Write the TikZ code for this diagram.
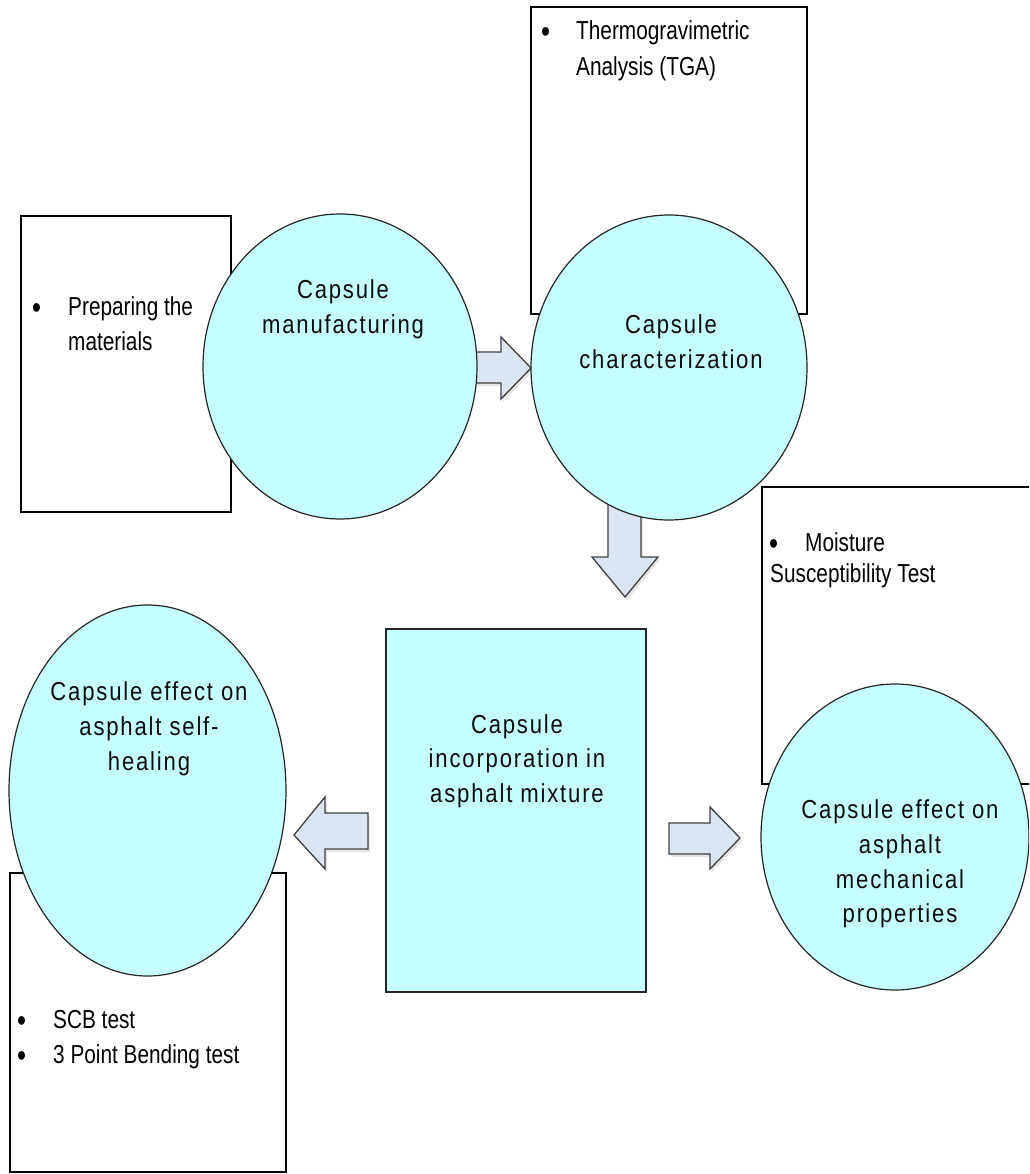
\documentclass[tikz,border=0pt]{standalone}
\usepackage{fontspec}
\setmainfont{Liberation Sans}
\newfontfamily\boxfont{Liberation Sans}[FakeStretch=0.8]
\newfontfamily\circfont{Liberation Sans}[FakeStretch=0.85,LetterSpace=7]
\usetikzlibrary{shapes.geometric}
\definecolor{capcyan}{RGB}{198,255,255}
\definecolor{arrfill}{RGB}{220,230,242}
\definecolor{arrline}{RGB}{64,64,64}
\tikzset{
  infobox/.style={rectangle, draw=black, line width=1.2pt, fill=white, inner sep=0, outer sep=0, anchor=north west},
  capsule/.style={ellipse, draw=black!85, line width=1.2pt, fill=capcyan, inner sep=0, outer sep=0},
  caprect/.style={rectangle, draw=black!85, line width=1.2pt, fill=capcyan, inner sep=0, outer sep=0, anchor=north west},
  blockarrow/.style={draw=arrline, line width=1.3pt, fill=arrfill, line join=miter},
  arrshadow/.style={fill=black!10, draw=none},
  boxtxt/.style={font=\boxfont\fontsize{26}{30}\selectfont, text=black, inner sep=0, anchor=base west},
  bultxt/.style={font=\boxfont\fontsize{32}{32}\selectfont, text=black, inner sep=0, anchor=base west},
  circtxt/.style={font=\circfont\fontsize{26}{35}\selectfont, text=black!95, inner sep=0, anchor=base},
}
\begin{document}
\begin{tikzpicture}[x=1pt,y=-1pt]
\useasboundingbox (0,0) rectangle (1029,1174);
\clip (0,0) rectangle (1029,1174);
\fill[white] (0,0) rectangle (1029,1174);

% info boxes (behind)
\node[infobox, minimum width=210pt, minimum height=296pt] (boxprep) at (21,216) {};
\node[infobox, minimum width=276pt, minimum height=307pt] (boxtga) at (531,7) {};
\node[infobox, minimum width=275pt, minimum height=297pt] (boxmoist) at (762,487) {};
\node[infobox, minimum width=276pt, minimum height=299pt] (boxscb) at (10,873) {};

% block arrows with faint shadows
\begin{scope}[shift={(2,3)}]
  \path[arrshadow] (470,352) -- (501,352) -- (501,337) -- (531,368) -- (501,399) -- (501,383) -- (470,383) -- cycle;
  \path[arrshadow] (608,500) -- (641,500) -- (641,557) -- (658,557) -- (625,597) -- (592,557) -- (608,557) -- cycle;
  \path[arrshadow] (669,823) -- (710,823) -- (710,807) -- (740,838) -- (710,869) -- (710,854) -- (669,854) -- cycle;
  \path[arrshadow] (368,813) -- (325,813) -- (325,797) -- (294,835) -- (325,869) -- (325,849) -- (368,849) -- cycle;
\end{scope}
\draw[blockarrow] (470,352) -- (501,352) -- (501,337) -- (531,368) -- (501,399) -- (501,383) -- (470,383) -- cycle;
\draw[blockarrow] (608,500) -- (641,500) -- (641,557) -- (658,557) -- (625,597) -- (592,557) -- (608,557) -- cycle;
\draw[blockarrow] (669,823) -- (710,823) -- (710,807) -- (740,838) -- (710,869) -- (710,854) -- (669,854) -- cycle;
\draw[blockarrow] (368,813) -- (325,813) -- (325,797) -- (294,835) -- (325,869) -- (325,849) -- (368,849) -- cycle;

% capsule shapes
\node[capsule, minimum width=274pt, minimum height=305pt] (manuf) at (340,366.5) {};
\node[capsule, minimum width=276pt, minimum height=305pt] (charac) at (669,367.5) {};
\node[capsule, minimum width=268pt, minimum height=306pt] (mech) at (895,837) {};
\node[capsule, minimum width=277pt, minimum height=371pt] (heal) at (147.5,790.5) {};
\node[caprect, minimum width=260pt, minimum height=363pt] (incorp) at (386,629) {};

% circle / rectangle texts
\node[circtxt] (manufA) at (343,298) {Capsule};
\node[circtxt] (manufB) at (343,333) {manufacturing};
\node[circtxt] (characA) at (671,333) {Capsule};
\node[circtxt] (characB) at (671,368) {characterization};
\node[circtxt] (incorpA) at (517,733) {Capsule};
\node[circtxt] (incorpB) at (517,767) {incorporation in};
\node[circtxt] (incorpC) at (517,802) {asphalt mixture};
\node[circtxt] (healA) at (149,700) {Capsule effect on};
\node[circtxt] (healB) at (149,735) {asphalt self-};
\node[circtxt] (healC) at (149,770) {healing};
\node[circtxt] (mechA) at (900,818) {Capsule effect on};
\node[circtxt] (mechB) at (900,853) {asphalt};
\node[circtxt] (mechC) at (900,888) {mechanical};
\node[circtxt] (mechD) at (900,922) {properties};

% box texts
\node[bultxt] (prepbul) at (32,318) {•};
\node[boxtxt] (prepA) at (68,315) {Preparing the};
\node[boxtxt] (prepB) at (68,350) {materials};
\node[bultxt] (tgabul) at (541,43) {•};
\node[boxtxt] (tgaA) at (576,40) {Thermogravimetric};
\node[boxtxt] (tgaB) at (576,76) {Analysis (TGA)};
\node[bultxt] (moistbul) at (769,554) {•};
\node[boxtxt] (moistA) at (805,551) {Moisture};
\node[boxtxt] (moistB) at (770,582) {Susceptibility Test};
\node[bultxt] (scbbul) at (17,1031) {•};
\node[boxtxt] (scbA) at (53,1028) {SCB test};
\node[bultxt] (tpbbul) at (17,1066) {•};
\node[boxtxt] (tpbA) at (53,1063) {3 Point Bending test};
\end{tikzpicture}
\end{document}
